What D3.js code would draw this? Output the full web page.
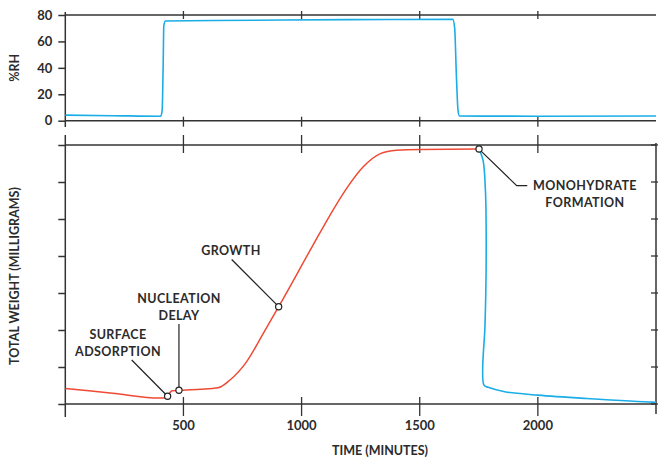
<!DOCTYPE html>
<html>
<head>
<meta charset="utf-8">
<script src="https://cdn.jsdelivr.net/npm/d3@7"></script>
<style>
  html, body { margin: 0; padding: 0; background: #fff; }
  svg { display: block; font-family: Lato, "Open Sans", sans-serif; }
  text { fill: #2b2b2b; font-weight: 700; }
</style>
</head>
<body>
<div id="chart"></div>
<script>
// ---- data ----
const rhTime   = [0, 200, 404, 410, 414, 417, 424, 800, 1200, 1640, 1648, 1655, 1662, 1668, 2000, 2500];
const rhValue  = [4.2, 3.8, 3.4, 8, 40, 72, 75.5, 76, 76.5, 76.7, 70, 35, 8, 3.6, 3.4, 3.6];

// weight gain under humid conditions (red)
const wetTime  = [0, 200, 400, 425, 433, 442, 452, 481, 570, 647, 697, 767, 838, 903, 1049, 1120, 1190, 1261, 1331, 1402, 1500, 1751];
const wetValue = [0.42, 0.29, 0.16, 0.17, 0.21, 0.3, 0.36, 0.37, 0.40, 0.44, 0.65, 1.14, 1.91, 2.63, 4.3, 5.1, 5.82, 6.41, 6.76, 6.86, 6.88, 6.89];

// weight loss after the humidity drops (blue)
const dryTime  = [1751, 1768, 1778, 1781, 1781, 1779, 1776, 1772, 1790, 1860, 2000, 2205, 2486, 2500];
const dryValue = [6.89, 6.59, 5.78, 4.88, 3.62, 2.8, 2.09, 0.51, 0.45, 0.33, 0.24, 0.15, 0.05, 0.05];

const xTicks  = [500, 1000, 1500, 2000];
const rhTicks = [0, 20, 40, 60, 80];
const wTicks  = [0, 1, 2, 3, 4, 5, 6, 7];

const notes = [
  { lines: ["SURFACE", "ADSORPTION"], time: 433, weight: 0.21 },
  { lines: ["NUCLEATION", "DELAY"], time: 481, weight: 0.37 },
  { lines: ["GROWTH"], time: 903, weight: 2.63 },
  { lines: ["MONOHYDRATE", "FORMATION"], time: 1751, weight: 6.89 }
];

const AXIS = "#333";
const RED = "#ef4a35";
const BLUE = "#1aade6";

const width = 658, height = 459;
const svg = d3.select("#chart").append("svg")
  .attr("width", width).attr("height", height);

const x = d3.scaleLinear().domain([0, 2500]).range([65.3, 656]);
const yRH = d3.scaleLinear().domain([0, 80]).range([120.7, 15]);
const yW = d3.scaleLinear().domain([0, 7]).range([404, 145]);

const line = (g, x1, y1, x2, y2, w = 1.5) => g.append("line")
  .attr("x1", x1).attr("y1", y1).attr("x2", x2).attr("y2", y2)
  .attr("stroke", AXIS).attr("stroke-width", w);

// =========================
// TOP PANEL (%RH)
// =========================
const rhPanel = svg.append("g");
line(rhPanel, x(0), yRH(80), x(2500), yRH(80));
line(rhPanel, x(0), yRH(0), x(2500), yRH(0));
line(rhPanel, x(0), 12, x(0), 127);

const rhAxis = rhPanel.append("g")
  .attr("transform", `translate(${x(0)},0)`)
  .call(d3.axisLeft(yRH).tickValues(rhTicks).tickSize(7).tickPadding(6));
rhAxis.select(".domain").remove();
rhAxis.selectAll(".tick line").attr("stroke", AXIS).attr("stroke-width", 1.5);
rhAxis.selectAll(".tick text").style("font-size", "13px").attr("fill", null);
rhAxis.attr("font-family", null).attr("font-size", null);

xTicks.forEach(t => {
  line(rhPanel, x(t), yRH(80) - 4, x(t), yRH(80) + 4, 1.3);
  line(rhPanel, x(t), yRH(0) - 4, x(t), yRH(0) + 6, 1.3);
});

rhPanel.append("path")
  .datum(d3.zip(rhTime, rhValue))
  .attr("fill", "none")
  .attr("stroke", BLUE)
  .attr("stroke-width", 1.6)
  .attr("d", d3.line().x(d => x(d[0])).y(d => yRH(d[1])).curve(d3.curveMonotoneX));

rhPanel.append("text")
  .attr("transform", `translate(19,${(yRH(0) + yRH(80)) / 2}) rotate(-90)`)
  .attr("text-anchor", "middle")
  .style("font-size", "12.5px")
  .text("%RH");

// =========================
// BOTTOM PANEL (weight)
// =========================
const wPanel = svg.append("g");
line(wPanel, x(0), yW(7), x(2500), yW(7));
line(wPanel, x(0), yW(0), x(2500), yW(0));
line(wPanel, x(0), 135, x(0), 417);
line(wPanel, x(2500), 143, x(2500), 414);

const wAxis = wPanel.append("g")
  .attr("transform", `translate(${x(0)},0)`)
  .call(d3.axisLeft(yW).tickValues(wTicks).tickSize(7).tickFormat(""));
wAxis.select(".domain").remove();
wAxis.selectAll(".tick line").attr("stroke", AXIS).attr("stroke-width", 1.5);

wTicks.forEach(v => line(wPanel, x(2500) - 5, yW(v), x(2500) + 3, yW(v), 1.3));

xTicks.forEach(t => {
  line(wPanel, x(t), yW(7) - 10, x(t), yW(7) + 8, 1.3);
  line(wPanel, x(t), yW(0) - 7, x(t), yW(0) + 12, 1.3);
});

wPanel.selectAll("text.xlab")
  .data(xTicks)
  .enter().append("text")
  .attr("class", "xlab")
  .attr("x", d => x(d))
  .attr("y", yW(0) + 26)
  .attr("text-anchor", "middle")
  .style("font-size", "13px")
  .text(d => d);

const wLine = d3.line().x(d => x(d[0])).y(d => yW(d[1]));

wPanel.append("path")
  .datum(d3.zip(wetTime, wetValue))
  .attr("fill", "none")
  .attr("stroke", RED)
  .attr("stroke-width", 1.5)
  .attr("d", wLine.curve(d3.curveMonotoneX));

wPanel.append("path")
  .datum(d3.zip(dryTime, dryValue))
  .attr("fill", "none")
  .attr("stroke", BLUE)
  .attr("stroke-width", 1.6)
  .attr("d", d3.line().x(d => x(d[0])).y(d => yW(d[1])).curve(d3.curveCatmullRom.alpha(0.5)));

// axis titles
wPanel.append("text")
  .attr("x", 380)
  .attr("y", 455)
  .attr("text-anchor", "middle")
  .style("font-size", "12.5px")
  .text("TIME (MINUTES)");

wPanel.append("text")
  .attr("transform", `translate(19,276) rotate(-90)`)
  .attr("text-anchor", "middle")
  .style("font-size", "12.5px")
  .text("TOTAL WEIGHT (MILLIGRAMS)");

// =========================
// ANNOTATIONS
// =========================
// label centre, first baseline and leader end (pixels)
const labelPos = [
  { cx: 118, y: 339, leader: [[131.7, 360]] },
  { cx: 179, y: 303, leader: [[x(481), 324]] },
  { cx: 231, y: 255, leader: [[231.7, 259.5]] },
  { cx: 585, y: 190, leader: [[516.7, 185.7], [527.3, 185.7]] }
];

notes.forEach((n, i) => {
  const p = labelPos[i];
  const px = x(n.time), py = yW(n.weight);
  wPanel.append("path")
    .attr("fill", "none")
    .attr("stroke", "#222")
    .attr("stroke-width", 1.2)
    .attr("d", d3.line()([[px, py], ...p.leader]));
  const t = wPanel.append("text")
    .attr("text-anchor", "middle")
    .style("font-size", "12.5px")
    .style("letter-spacing", "0.4px");
  n.lines.forEach((s, j) => {
    t.append("tspan").attr("x", p.cx).attr("y", p.y + j * 16.5).text(s);
  });
  wPanel.append("circle")
    .attr("cx", px).attr("cy", py).attr("r", 3.1)
    .attr("fill", "#fff")
    .attr("stroke", "#222")
    .attr("stroke-width", 1.2);
});
</script>
</body>
</html>
